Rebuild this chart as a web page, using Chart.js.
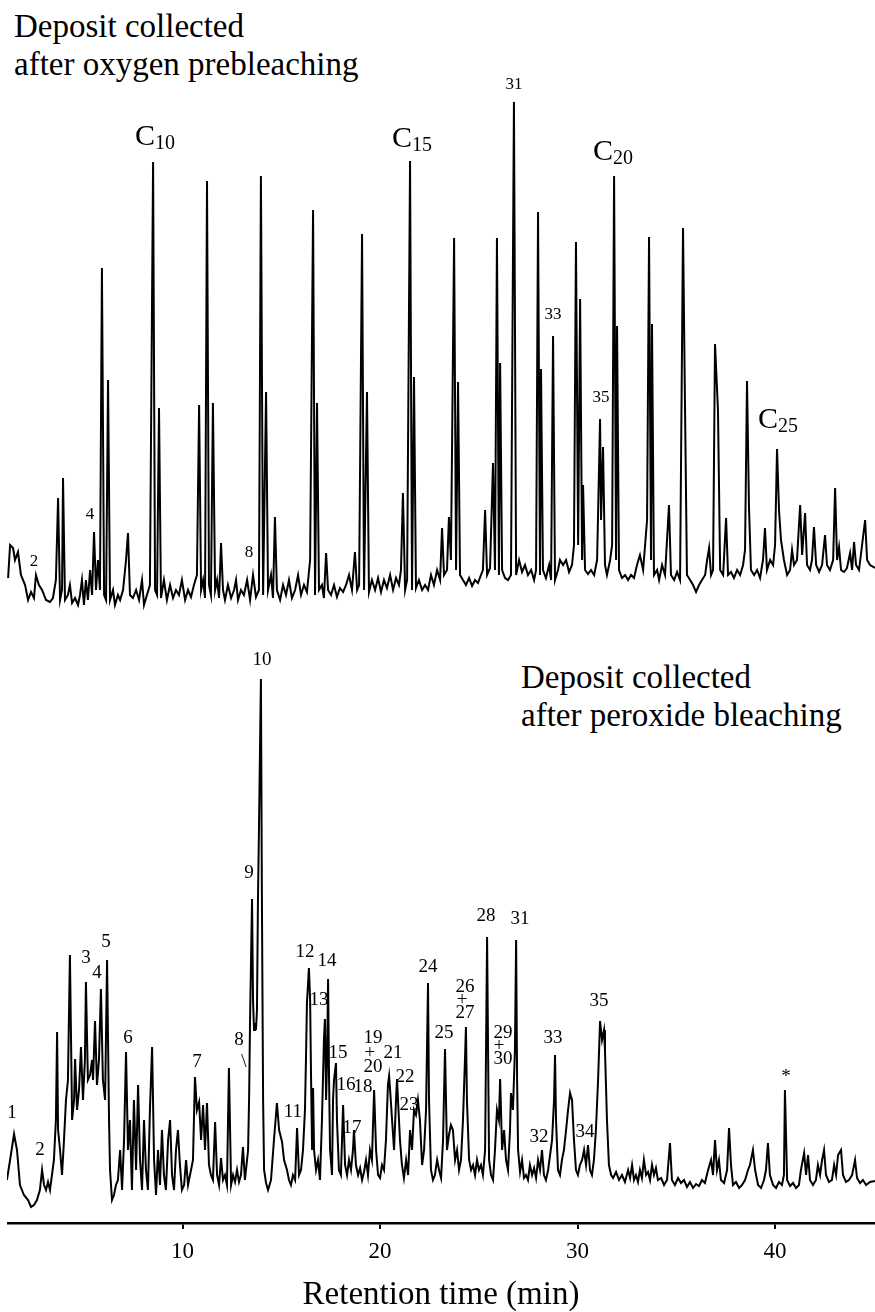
<!DOCTYPE html>
<html>
<head>
<meta charset="utf-8">
<script src="https://cdn.jsdelivr.net/npm/chart.js@4.4.1/dist/chart.umd.min.js"></script>
<style>
  body { margin: 0; background: #fff; }
  #page { position: relative; width: 875px; height: 1312px; overflow: hidden; }
  .caption { position: absolute; font-family: "Liberation Serif", "Times New Roman", serif; font-size: 33px; line-height: 38px; color: #000; white-space: nowrap; }
  canvas { position: absolute; }
</style>
</head>
<body>
<div id="page">
  <div class="caption" style="left:14px; top:7px;">Deposit collected<br>after oxygen prebleaching</div>
  <div class="caption" style="left:521px; top:658px;">Deposit collected<br>after peroxide bleaching</div>
  <canvas id="topChart" width="868" height="565" style="left:7px; top:60px;"></canvas>
  <canvas id="bottomChart" width="868" height="672" style="left:7px; top:640px;"></canvas>
</div>
<script>
// Retention time (min) and detector signal (arbitrary units)

// Deposit collected after oxygen prebleaching
const topTime = [1.17, 1.27, 1.42, 1.52, 1.67, 1.82, 2.03, 2.18, 2.33, 2.48, 2.58, 2.73, 2.89, 3.09, 3.29, 3.44, 3.59, 3.70, 3.80, 3.90,
  3.95, 4.05, 4.20, 4.30, 4.41, 4.56, 4.71, 4.81, 4.91, 5.01, 5.11, 5.21, 5.32, 5.42, 5.52, 5.62, 5.72, 5.82, 5.92, 6.03,
  6.13, 6.23, 6.33, 6.48, 6.58, 6.73, 6.84, 6.99, 7.14, 7.24, 7.34, 7.49, 7.65, 7.80, 7.95, 8.05, 8.20, 8.35, 8.51, 8.61,
  8.71, 8.81, 8.91, 9.06, 9.21, 9.37, 9.52, 9.67, 9.82, 9.97, 10.13, 10.28, 10.43, 10.58, 10.73, 10.84, 10.94, 11.04, 11.14, 11.24,
  11.34, 11.44, 11.54, 11.65, 11.75, 11.85, 11.95, 12.05, 12.15, 12.30, 12.46, 12.61, 12.71, 12.81, 12.96, 13.11, 13.27, 13.42, 13.57, 13.72,
  13.87, 13.97, 14.08, 14.23, 14.33, 14.48, 14.58, 14.68, 14.78, 14.94, 15.09, 15.24, 15.39, 15.54, 15.70, 15.85, 16.00, 16.15, 16.30, 16.46,
  16.61, 16.71, 16.81, 16.91, 17.06, 17.16, 17.27, 17.37, 17.52, 17.67, 17.82, 17.97, 18.13, 18.28, 18.43, 18.58, 18.73, 18.84, 18.94, 19.09,
  19.19, 19.34, 19.44, 19.59, 19.75, 19.90, 20.05, 20.20, 20.35, 20.51, 20.66, 20.81, 20.96, 21.06, 21.16, 21.27, 21.37, 21.52, 21.62, 21.72,
  21.82, 21.97, 22.13, 22.28, 22.43, 22.58, 22.73, 22.89, 23.04, 23.14, 23.24, 23.39, 23.49, 23.59, 23.75, 23.85, 23.95, 24.05, 24.20, 24.35,
  24.51, 24.66, 24.81, 24.96, 25.11, 25.21, 25.32, 25.42, 25.57, 25.72, 25.82, 25.92, 26.02, 26.08, 26.18, 26.33, 26.48, 26.63, 26.78, 26.89,
  27.04, 27.19, 27.34, 27.49, 27.65, 27.80, 27.90, 28.00, 28.10, 28.15, 28.25, 28.40, 28.56, 28.66, 28.76, 28.86, 29.01, 29.11, 29.27, 29.42,
  29.57, 29.72, 29.82, 29.92, 30.03, 30.13, 30.23, 30.28, 30.38, 30.53, 30.68, 30.84, 30.99, 31.14, 31.19, 31.29, 31.39, 31.49, 31.65, 31.75,
  31.85, 31.95, 32.00, 32.10, 32.25, 32.41, 32.56, 32.71, 32.86, 33.01, 33.16, 33.32, 33.42, 33.52, 33.62, 33.72, 33.77, 33.87, 34.03, 34.13,
  34.28, 34.43, 34.63, 34.73, 34.89, 35.04, 35.19, 35.34, 35.44, 35.54, 35.70, 35.85, 36.00, 36.15, 36.30, 36.46, 36.56, 36.66, 36.76, 36.86,
  36.96, 37.11, 37.22, 37.37, 37.52, 37.62, 37.77, 37.92, 38.08, 38.23, 38.38, 38.48, 38.58, 38.68, 38.78, 38.94, 39.09, 39.24, 39.39, 39.49,
  39.59, 39.75, 39.90, 40.00, 40.10, 40.20, 40.30, 40.45, 40.61, 40.76, 40.86, 40.96, 41.11, 41.27, 41.37, 41.52, 41.62, 41.77, 41.87, 41.97,
  42.08, 42.23, 42.38, 42.53, 42.63, 42.78, 42.94, 43.04, 43.14, 43.24, 43.34, 43.49, 43.64, 43.80, 43.90, 44.00, 44.10, 44.25, 44.40, 44.56,
  44.66, 44.81, 45.06];
const topSignal = [47, 80, 77, 65, 73, 50, 40, 25, 33, 27, 50, 40, 35, 25, 23, 27, 45, 127, 25, 35,
  147, 25, 30, 40, 22, 27, 20, 30, 45, 20, 45, 25, 55, 30, 93, 35, 65, 35, 357, 30,
  25, 245, 25, 35, 20, 30, 25, 35, 65, 92, 30, 27, 35, 25, 45, 20, 30, 40, 463, 35,
  30, 217, 27, 45, 25, 40, 27, 35, 30, 45, 25, 35, 28, 40, 50, 220, 35, 45, 27, 444,
  40, 30, 222, 35, 45, 27, 82, 35, 25, 40, 27, 35, 45, 25, 35, 30, 45, 25, 50, 28,
  35, 449, 30, 233, 35, 50, 27, 108, 35, 25, 40, 30, 45, 27, 35, 50, 30, 40, 33, 65,
  415, 30, 222, 35, 40, 27, 72, 35, 30, 40, 28, 37, 33, 40, 50, 35, 73, 35, 40, 391,
  35, 233, 33, 45, 35, 47, 33, 45, 37, 50, 35, 47, 40, 55, 132, 35, 45, 464, 35, 248,
  37, 45, 35, 40, 35, 50, 40, 55, 45, 97, 50, 55, 108, 65, 387, 55, 243, 50, 45, 40,
  47, 39, 45, 42, 50, 55, 115, 50, 57, 162, 55, 387, 50, 262, 55, 47, 45, 50, 523, 50,
  65, 53, 60, 50, 55, 45, 55, 413, 50, 256, 55, 47, 60, 45, 289, 45, 55, 65, 60, 65,
  53, 60, 80, 383, 80, 326, 65, 140, 55, 51, 55, 50, 65, 206, 105, 178, 60, 50, 65, 80,
  449, 65, 299, 55, 47, 50, 45, 50, 47, 60, 70, 55, 80, 105, 388, 65, 301, 50, 55, 45,
  60, 50, 120, 50, 45, 53, 45, 397, 220, 50, 45, 40, 33, 40, 45, 50, 65, 77, 50, 55,
  281, 215, 55, 50, 107, 50, 53, 47, 55, 50, 60, 75, 244, 118, 55, 50, 55, 47, 65, 97,
  55, 65, 60, 80, 176, 115, 85, 65, 50, 55, 75, 60, 65, 120, 70, 112, 60, 55, 65, 98,
  60, 53, 60, 90, 60, 55, 65, 137, 65, 78, 55, 53, 57, 72, 55, 83, 60, 55, 79, 105,
  65, 60, 57];

// Deposit collected after peroxide bleaching
const bottomTime = [1.11, 1.27, 1.47, 1.62, 1.77, 1.97, 2.18, 2.33, 2.48, 2.63, 2.78, 2.89, 2.99, 3.09, 3.19, 3.29, 3.39, 3.49, 3.59, 3.65,
  3.70, 3.80, 3.90, 4.00, 4.10, 4.20, 4.30, 4.41, 4.51, 4.56, 4.66, 4.76, 4.86, 4.96, 5.06, 5.11, 5.21, 5.32, 5.42, 5.47,
  5.57, 5.67, 5.77, 5.87, 5.97, 6.08, 6.18, 6.28, 6.33, 6.43, 6.53, 6.63, 6.73, 6.84, 6.94, 7.04, 7.14, 7.24, 7.34, 7.44,
  7.54, 7.65, 7.75, 7.85, 7.95, 8.05, 8.15, 8.25, 8.35, 8.46, 8.56, 8.66, 8.76, 8.86, 8.96, 9.06, 9.16, 9.27, 9.37, 9.47,
  9.57, 9.67, 9.77, 9.87, 9.97, 10.08, 10.18, 10.28, 10.43, 10.53, 10.63, 10.73, 10.84, 10.94, 11.04, 11.14, 11.24, 11.34, 11.44, 11.54,
  11.65, 11.75, 11.85, 11.95, 12.05, 12.15, 12.25, 12.35, 12.46, 12.56, 12.66, 12.76, 12.86, 12.96, 13.06, 13.16, 13.32, 13.37, 13.42, 13.52,
  13.57, 13.62, 13.67, 13.72, 13.77, 13.82, 13.87, 13.97, 14.02, 14.08, 14.13, 14.23, 14.33, 14.48, 14.63, 14.78, 14.89, 15.04, 15.14, 15.29,
  15.39, 15.49, 15.59, 15.70, 15.80, 15.90, 16.00, 16.10, 16.20, 16.25, 16.30, 16.40, 16.46, 16.51, 16.56, 16.61, 16.66, 16.76, 16.86, 16.96,
  17.06, 17.16, 17.21, 17.27, 17.32, 17.37, 17.42, 17.47, 17.57, 17.62, 17.67, 17.77, 17.82, 17.92, 18.02, 18.13, 18.23, 18.33, 18.43, 18.53,
  18.63, 18.68, 18.78, 18.89, 18.99, 19.09, 19.19, 19.29, 19.39, 19.49, 19.59, 19.70, 19.80, 19.90, 20.00, 20.10, 20.20, 20.30, 20.40, 20.46,
  20.51, 20.61, 20.71, 20.81, 20.86, 20.91, 21.01, 21.11, 21.21, 21.32, 21.42, 21.52, 21.62, 21.72, 21.82, 21.92, 22.02, 22.13, 22.23, 22.33,
  22.43, 22.48, 22.58, 22.68, 22.78, 22.89, 22.99, 23.09, 23.19, 23.29, 23.39, 23.49, 23.59, 23.69, 23.80, 23.90, 24.00, 24.10, 24.20, 24.30,
  24.35, 24.40, 24.51, 24.61, 24.71, 24.81, 24.91, 25.01, 25.11, 25.21, 25.32, 25.42, 25.47, 25.52, 25.62, 25.72, 25.82, 25.92, 26.02, 26.08,
  26.18, 26.28, 26.38, 26.48, 26.58, 26.63, 26.73, 26.83, 26.89, 26.94, 26.99, 27.09, 27.19, 27.29, 27.39, 27.49, 27.59, 27.70, 27.80, 27.90,
  28.00, 28.10, 28.20, 28.30, 28.40, 28.51, 28.61, 28.71, 28.81, 28.86, 28.91, 29.01, 29.11, 29.21, 29.31, 29.42, 29.52, 29.62, 29.72, 29.82,
  29.92, 30.02, 30.12, 30.23, 30.33, 30.43, 30.53, 30.63, 30.73, 30.83, 30.93, 31.04, 31.14, 31.24, 31.34, 31.39, 31.49, 31.59, 31.70, 31.80,
  31.95, 32.10, 32.25, 32.40, 32.56, 32.66, 32.76, 32.86, 32.96, 33.06, 33.16, 33.26, 33.36, 33.47, 33.57, 33.67, 33.77, 33.87, 33.97, 34.07,
  34.23, 34.38, 34.53, 34.68, 34.78, 34.93, 35.09, 35.24, 35.39, 35.54, 35.69, 35.85, 36.00, 36.15, 36.30, 36.45, 36.61, 36.76, 36.86, 36.96,
  37.06, 37.16, 37.26, 37.42, 37.57, 37.67, 37.77, 37.87, 38.02, 38.18, 38.33, 38.48, 38.63, 38.73, 38.88, 38.99, 39.14, 39.29, 39.44, 39.54,
  39.64, 39.74, 39.90, 40.05, 40.20, 40.35, 40.45, 40.50, 40.61, 40.76, 40.91, 41.06, 41.21, 41.31, 41.47, 41.57, 41.67, 41.77, 41.92, 42.07,
  42.17, 42.28, 42.38, 42.48, 42.58, 42.73, 42.88, 42.99, 43.09, 43.19, 43.34, 43.44, 43.59, 43.74, 43.90, 44.05, 44.15, 44.30, 44.45, 44.61,
  44.81, 45.06];
const bottomSignal = [43, 63, 89, 73, 38, 28, 23, 16, 18, 23, 33, 53, 38, 33, 41, 33, 48, 63, 103, 191,
  93, 73, 48, 83, 123, 143, 268, 103, 123, 164, 113, 133, 176, 123, 163, 241, 143, 148, 163, 143,
  202, 138, 163, 234, 143, 123, 263, 103, 53, 23, 28, 38, 43, 73, 33, 83, 171, 73, 103, 33,
  123, 53, 138, 63, 33, 103, 53, 33, 113, 176, 63, 28, 73, 38, 93, 48, 33, 83, 103, 48,
  33, 73, 93, 58, 33, 38, 63, 38, 53, 63, 146, 113, 121, 83, 118, 73, 120, 58, 48, 43,
  101, 48, 38, 65, 43, 48, 38, 155, 38, 48, 41, 53, 41, 48, 76, 43, 73, 123, 203, 324,
  223, 193, 200, 193, 213, 323, 393, 544, 323, 123, 53, 40, 33, 43, 83, 120, 93, 81, 63, 53,
  43, 38, 48, 43, 95, 48, 53, 73, 113, 163, 220, 255, 223, 143, 73, 135, 73, 53, 63, 43,
  103, 183, 204, 123, 163, 244, 143, 73, 48, 123, 143, 160, 103, 53, 48, 118, 58, 48, 63, 53,
  73, 93, 58, 48, 55, 43, 51, 63, 48, 73, 63, 133, 73, 48, 45, 58, 53, 83, 138, 147,
  133, 103, 73, 123, 144, 123, 83, 58, 45, 63, 48, 93, 73, 113, 108, 123, 103, 58, 73, 113,
  240, 123, 53, 43, 48, 63, 53, 45, 83, 174, 73, 88, 98, 93, 63, 73, 53, 63, 103, 163,
  196, 123, 63, 53, 58, 48, 63, 53, 58, 48, 73, 286, 173, 63, 48, 43, 73, 113, 103, 144,
  73, 93, 63, 53, 93, 130, 113, 173, 283, 143, 73, 51, 63, 45, 48, 43, 58, 48, 55, 45,
  63, 53, 73, 48, 43, 53, 68, 83, 123, 168, 103, 53, 48, 63, 73, 93, 113, 130, 123, 83,
  53, 48, 58, 63, 73, 58, 78, 53, 48, 63, 93, 143, 202, 183, 193, 172, 103, 58, 48, 45,
  51, 43, 48, 41, 53, 45, 58, 43, 48, 41, 53, 45, 63, 48, 51, 43, 58, 48, 55, 43,
  45, 38, 43, 80, 43, 38, 45, 40, 43, 36, 41, 35, 39, 37, 43, 40, 53, 63, 48, 83,
  53, 63, 43, 40, 53, 95, 58, 38, 41, 35, 38, 43, 53, 58, 73, 53, 38, 35, 43, 53,
  80, 48, 38, 35, 41, 38, 48, 133, 43, 37, 40, 35, 38, 53, 70, 48, 68, 43, 38, 43,
  58, 48, 63, 73, 48, 41, 43, 58, 48, 68, 73, 48, 41, 43, 48, 63, 45, 40, 43, 38,
  41, 42];

const xTicks = [10, 20, 30, 40];

// peak annotations: text, retention time, signal level of the text centre
const topLabelText = ['2', '4', '8', '31', '33', '35'];
const topLabelTime = [2.48, 5.32, 13.37, 26.78, 28.76, 31.19];
const topLabelSignal = [63, 110, 72, 540, 310, 227];

const carbonNumber = ['10', '15', '20', '25'];
const carbonTime = [7.59, 20.61, 30.78, 39.14];
const carbonSignal = [480, 478, 465, 197];

const bottomLabelText = ['1', '2', '3', '4', '5', '6', '7', '8', '\\', '9', '10', '11', '12', '13', '14', '15', '16', '17', '18',
  '19', '+', '20', '21', '22', '23', '24', '25', '26', '+', '27', '28', '29', '+', '30', '31', '32', '33', '34', '35', '*'];
const bottomLabelTime = [1.37, 2.78, 5.11, 5.67, 6.13, 7.24, 10.73, 12.86, 13.11, 13.37, 14.03, 15.59, 16.20, 16.91, 17.32, 17.87, 18.28, 18.58, 19.14,
  19.65, 19.49, 19.65, 20.66, 21.27, 21.47, 22.43, 23.24, 24.30, 24.15, 24.30, 25.37, 26.23, 26.03, 26.23, 27.09, 28.05, 28.76, 30.38, 31.09, 40.56];
const bottomLabelSignal = [110, 73, 265, 250, 281, 185, 161, 183, 161, 350, 563, 111, 271, 223, 262, 170, 138, 95, 136,
  185, 170, 156, 170, 146, 118, 256, 190, 236, 223, 210, 307, 190, 177, 164, 304, 86, 185, 91, 222, 146];

const SERIF = '"Liberation Serif", "Times New Roman", serif';

const peakLabels = {
  id: 'peakLabels',
  afterDatasetsDraw(chart, args, opts) {
    const { ctx } = chart;
    const x = chart.scales.x, y = chart.scales.y;
    ctx.save();
    ctx.fillStyle = '#000';
    ctx.textAlign = 'center';
    ctx.textBaseline = 'middle';
    ctx.font = opts.size + 'px ' + SERIF;
    opts.text.forEach((txt, i) => {
      ctx.fillText(txt, x.getPixelForValue(opts.time[i]), y.getPixelForValue(opts.signal[i]));
    });
    // C10, C15 ... with subscript
    if (opts.carbons) {
      ctx.textAlign = 'left';
      ctx.textBaseline = 'alphabetic';
      opts.carbons.forEach((n, i) => {
        const px = x.getPixelForValue(opts.carbonTime[i]);
        const py = y.getPixelForValue(opts.carbonSignal[i]);
        ctx.font = '30px ' + SERIF;
        ctx.fillText('C', px, py);
        const w = ctx.measureText('C').width;
        ctx.font = '20px ' + SERIF;
        ctx.fillText(n, px + w, py + 4);
      });
    }
    ctx.restore();
  }
};

function traceData(times, signal) {
  return times.map((t, i) => ({ x: t, y: signal[i] }));
}

function makeChart(id, times, signal, yMax, showAxis, labelOpts) {
  const xScale = {
    type: 'linear',
    min: 1.114,
    max: 45.06,
    display: showAxis,
    afterBuildTicks: s => { s.ticks = xTicks.map(v => ({ value: v })); }
  };
  if (showAxis) {
    Object.assign(xScale, {
      position: 'bottom',
      border: { display: true, color: '#000', width: 2.5 },
      grid: { display: true, drawOnChartArea: false, drawTicks: true, tickLength: 6, color: '#000', lineWidth: 2 },
      ticks: { color: '#000', font: { family: SERIF, size: 23 }, padding: 9, maxRotation: 0, autoSkip: false },
      title: { display: true, text: 'Retention time (min)', color: '#000',
        font: { family: SERIF, size: 33, lineHeight: 1 }, padding: { top: 0, bottom: 0 } },
      afterFit: s => { s.height = 89; }
    });
  }
  return new Chart(document.getElementById(id), {
    type: 'scatter',
    data: {
      datasets: [{
        data: traceData(times, signal),
        showLine: true,
        borderColor: '#000',
        borderWidth: 2,
        pointRadius: 0,
        tension: 0
      }]
    },
    options: {
      responsive: false,
      animation: false,
      devicePixelRatio: 1,
      layout: { padding: { top: showAxis ? 10 : 0, left: 0, right: 0, bottom: 0 } },
      scales: {
        x: xScale,
        y: { type: 'linear', min: 0, max: yMax, display: false }
      },
      plugins: {
        legend: { display: false },
        tooltip: { enabled: false },
        peakLabels: labelOpts
      }
    },
    plugins: [peakLabels]
  });
}

makeChart('topChart', topTime, topSignal, 565, false, {
  size: 17, text: topLabelText, time: topLabelTime, signal: topLabelSignal,
  carbons: carbonNumber, carbonTime: carbonTime, carbonSignal: carbonSignal
});

makeChart('bottomChart', bottomTime, bottomSignal, 573, true, {
  size: 19, text: bottomLabelText, time: bottomLabelTime, signal: bottomLabelSignal
});
</script>
</body>
</html>
